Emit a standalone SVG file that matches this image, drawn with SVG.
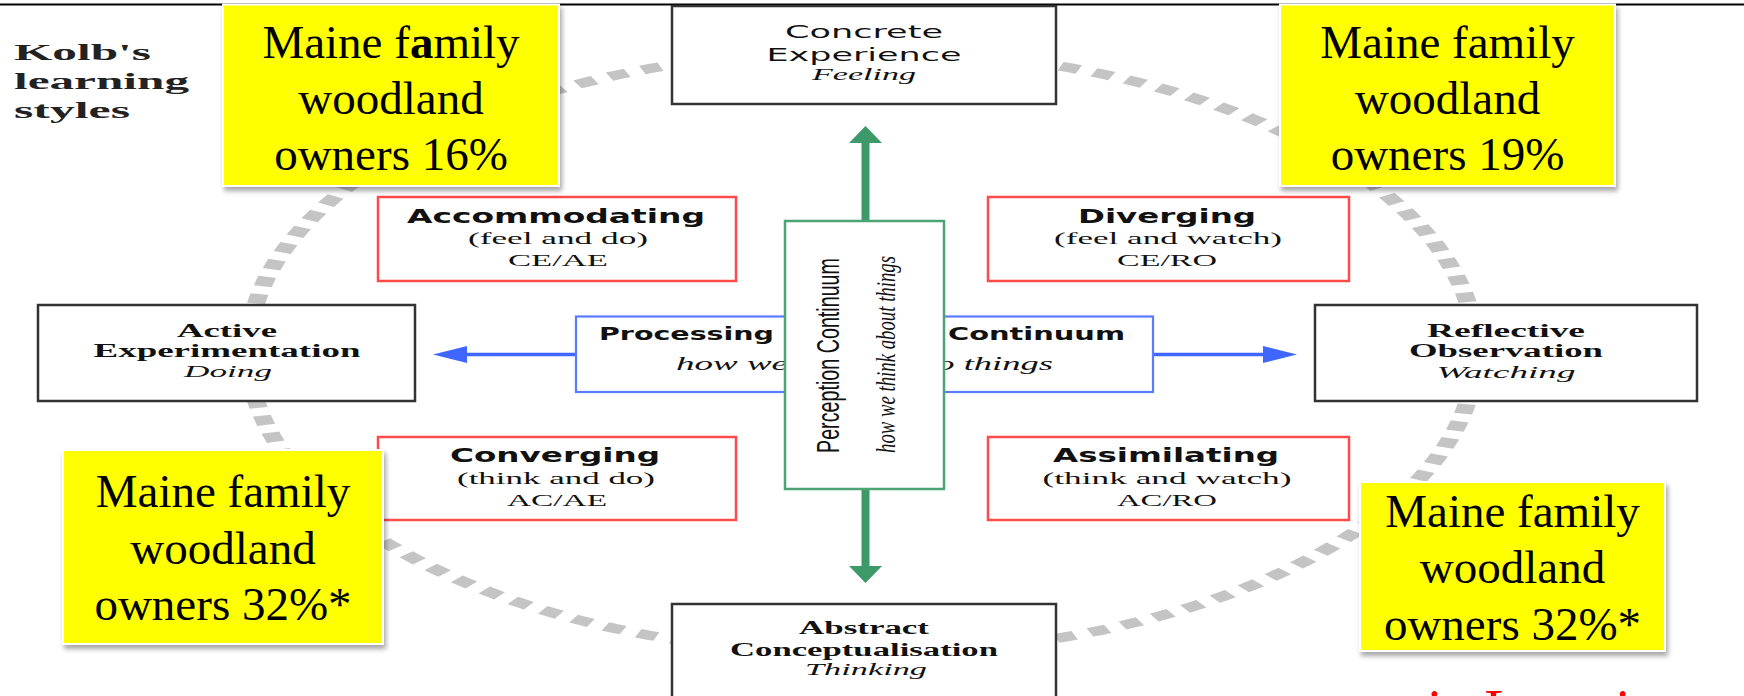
<svg xmlns="http://www.w3.org/2000/svg" width="1744" height="696" viewBox="0 0 1744 696">
<defs>
<style>
.bg{fill:#fff}
.blk{fill:#fff;stroke:#333;stroke-width:2.5}
.red{fill:#fff;stroke:#ff4a4a;stroke-width:2.5}
.blu{fill:#fff;stroke:#5b7bff;stroke-width:2.2}
.grn{fill:#fff;stroke:#4ea374;stroke-width:2.5}
.note{fill:#ffff00;stroke:#fff;stroke-width:2}
.t{text-anchor:middle;fill:#111}
.sans{font-family:"DejaVu Sans",Verdana,sans-serif;font-size:18px}
.sansb{font-family:"DejaVu Sans",Verdana,sans-serif;font-size:19px;font-weight:bold}
.bs{font-family:"Liberation Serif","Times New Roman",serif;font-weight:bold;font-size:18px}
.it{font-family:"Liberation Serif","Times New Roman",serif;font-style:italic;font-size:17px}
.ser{font-family:"Liberation Serif","Times New Roman",serif;font-size:17px}
.nt{font-family:"Liberation Serif","Times New Roman",serif;font-size:47px;text-anchor:middle;fill:#000}
.kolb{font-family:"Liberation Serif","Times New Roman",serif;font-weight:bold;font-size:24px;fill:#222}
.garr{fill:#3d9a68}
.gsh{stroke:#3d9a68;stroke-width:8}
.barr{fill:#3f66ff}
.bsh{stroke:#3f66ff;stroke-width:3.5}
</style>
<filter id="sh" x="-10%" y="-10%" width="125%" height="130%">
<feDropShadow dx="2" dy="4" stdDeviation="2.5" flood-color="#000" flood-opacity="0.35"/>
</filter>
</defs>
<rect class="bg" x="0" y="0" width="1744" height="696"/>
<line x1="0" y1="4.5" x2="1744" y2="4.5" stroke="#000" stroke-width="1.8"/>

<g id="cycle">
<circle cx="0" cy="0" r="302" transform="translate(862,352) scale(2.033,1)" fill="none" stroke="#c4c4c4" stroke-width="9" stroke-dasharray="9.5 8"/>
</g>

<g id="title">
<text class="kolb" x="14" y="60" textLength="137" lengthAdjust="spacingAndGlyphs">Kolb's</text>
<text class="kolb" x="14" y="89" textLength="175" lengthAdjust="spacingAndGlyphs">learning</text>
<text class="kolb" x="14" y="118" textLength="116" lengthAdjust="spacingAndGlyphs">styles</text>
</g>

<g id="connectors">
<line class="gsh" x1="865.5" y1="222" x2="865.5" y2="142"/>
<polygon class="garr" points="849,143 882,143 865.5,126"/>
<line class="gsh" x1="865.5" y1="488" x2="865.5" y2="567"/>
<polygon class="garr" points="849,566 882,566 865.5,583"/>
<line class="bsh" x1="577" y1="354.5" x2="465" y2="354.5"/>
<polygon class="barr" points="467,346 467,363 433,354.5"/>
<line class="bsh" x1="1152" y1="354.5" x2="1265" y2="354.5"/>
<polygon class="barr" points="1263,346 1263,363 1297,354.5"/>
</g>

<g id="processing">
<rect class="blu" x="576" y="316.5" width="577" height="75.5"/>
<text class="sansb" x="599" y="340" style="font-size:17px" textLength="175" lengthAdjust="spacingAndGlyphs" fill="#111">Processing</text>
<text class="sansb" x="948" y="340" style="font-size:17px" textLength="177" lengthAdjust="spacingAndGlyphs" fill="#111">Continuum</text>
<text class="it" x="676" y="370" style="font-size:18px" textLength="112" lengthAdjust="spacingAndGlyphs" fill="#111">how we</text>
<text class="it" x="918" y="370" style="font-size:18px" textLength="135" lengthAdjust="spacingAndGlyphs" fill="#111">do things</text>
</g>

<g id="perception">
<rect class="grn" x="785" y="221" width="159" height="268"/>
<text class="t" transform="translate(839,355.5) rotate(-90)" x="0" y="0" style="font-family:'Liberation Sans',Arial,sans-serif;font-size:31px" textLength="195" lengthAdjust="spacingAndGlyphs">Perception Continuum</text>
<text class="t it" transform="translate(895,354.5) rotate(-90)" x="0" y="0" style="font-size:28px" textLength="197" lengthAdjust="spacingAndGlyphs">how we think about things</text>
</g>

<g id="concrete">
<rect class="blk" x="672" y="6" width="384" height="98"/>
<text class="t sans" x="864" y="38" textLength="158" lengthAdjust="spacingAndGlyphs">Concrete</text>
<text class="t sans" x="864" y="61" textLength="195" lengthAdjust="spacingAndGlyphs">Experience</text>
<text class="t it" x="864" y="80" style="font-size:16px" textLength="104" lengthAdjust="spacingAndGlyphs">Feeling</text>
</g>

<g id="active">
<rect class="blk" x="38" y="305" width="377" height="96"/>
<text class="t bs" x="227" y="337" textLength="100" lengthAdjust="spacingAndGlyphs">Active</text>
<text class="t bs" x="227" y="357" textLength="267" lengthAdjust="spacingAndGlyphs">Experimentation</text>
<text class="t it" x="228" y="377" textLength="88" lengthAdjust="spacingAndGlyphs">Doing</text>
</g>

<g id="reflective">
<rect class="blk" x="1315" y="305" width="382" height="96"/>
<text class="t bs" x="1506" y="337" textLength="158" lengthAdjust="spacingAndGlyphs">Reflective</text>
<text class="t bs" x="1506" y="357" textLength="194" lengthAdjust="spacingAndGlyphs">Observation</text>
<text class="t it" x="1506" y="378" textLength="139" lengthAdjust="spacingAndGlyphs">Watching</text>
</g>

<g id="abstract">
<rect class="blk" x="672" y="604" width="384" height="110"/>
<text class="t bs" x="864" y="634" textLength="130" lengthAdjust="spacingAndGlyphs">Abstract</text>
<text class="t bs" x="864" y="656" textLength="268" lengthAdjust="spacingAndGlyphs">Conceptualisation</text>
<text class="t it" x="866" y="675" textLength="122" lengthAdjust="spacingAndGlyphs">Thinking</text>
</g>

<g id="accommodating">
<rect class="red" x="378" y="197" width="358" height="84"/>
<text class="t sansb" x="556" y="223" textLength="298" lengthAdjust="spacingAndGlyphs">Accommodating</text>
<text class="t ser" x="558" y="244" textLength="180" lengthAdjust="spacingAndGlyphs">(feel and do)</text>
<text class="t ser" x="558" y="266" textLength="100" lengthAdjust="spacingAndGlyphs">CE/AE</text>
</g>

<g id="diverging">
<rect class="red" x="988" y="197" width="361" height="84"/>
<text class="t sansb" x="1167" y="223" textLength="178" lengthAdjust="spacingAndGlyphs">Diverging</text>
<text class="t ser" x="1168" y="244" textLength="228" lengthAdjust="spacingAndGlyphs">(feel and watch)</text>
<text class="t ser" x="1167" y="266" textLength="100" lengthAdjust="spacingAndGlyphs">CE/RO</text>
</g>

<g id="converging">
<rect class="red" x="378" y="437" width="358" height="83"/>
<text class="t sansb" x="555" y="462" textLength="210" lengthAdjust="spacingAndGlyphs">Converging</text>
<text class="t ser" x="556" y="484" textLength="198" lengthAdjust="spacingAndGlyphs">(think and do)</text>
<text class="t ser" x="557" y="506" textLength="100" lengthAdjust="spacingAndGlyphs">AC/AE</text>
</g>

<g id="assimilating">
<rect class="red" x="988" y="437" width="361" height="83"/>
<text class="t sansb" x="1166" y="462" textLength="226" lengthAdjust="spacingAndGlyphs">Assimilating</text>
<text class="t ser" x="1167" y="484" textLength="249" lengthAdjust="spacingAndGlyphs">(think and watch)</text>
<text class="t ser" x="1167" y="506" textLength="100" lengthAdjust="spacingAndGlyphs">AC/RO</text>
</g>

<g id="note-accommodating">
<rect class="note" x="223" y="4.5" width="336" height="181.5" filter="url(#sh)"/>
<text class="nt" x="391" y="58">Maine f<tspan font-weight="bold">a</tspan>mily</text>
<text class="nt" x="391" y="114">woodland</text>
<text class="nt" x="391" y="170">owners 16%</text>
</g>

<g id="note-diverging">
<rect class="note" x="1280" y="4.5" width="335" height="181.5" filter="url(#sh)"/>
<text class="nt" x="1447.5" y="58">Maine family</text>
<text class="nt" x="1447.5" y="114">woodland</text>
<text class="nt" x="1447.5" y="170">owners 19%</text>
</g>

<g id="note-converging">
<rect class="note" x="63" y="450" width="320" height="194" filter="url(#sh)"/>
<text class="nt" x="223" y="507">Maine family</text>
<text class="nt" x="223" y="564">woodland</text>
<text class="nt" x="223" y="620">owners 32%*</text>
</g>

<g id="note-assimilating">
<rect class="note" x="1360" y="482" width="305" height="169" filter="url(#sh)"/>
<text class="nt" x="1512.5" y="527">Maine family</text>
<text class="nt" x="1512.5" y="583">woodland</text>
<text class="nt" x="1512.5" y="640">owners 32%*</text>
</g>

<text x="1427" y="729" font-family="Liberation Serif, Times New Roman, serif" font-size="56" fill="#ff0000">in Learning</text>
</svg>
